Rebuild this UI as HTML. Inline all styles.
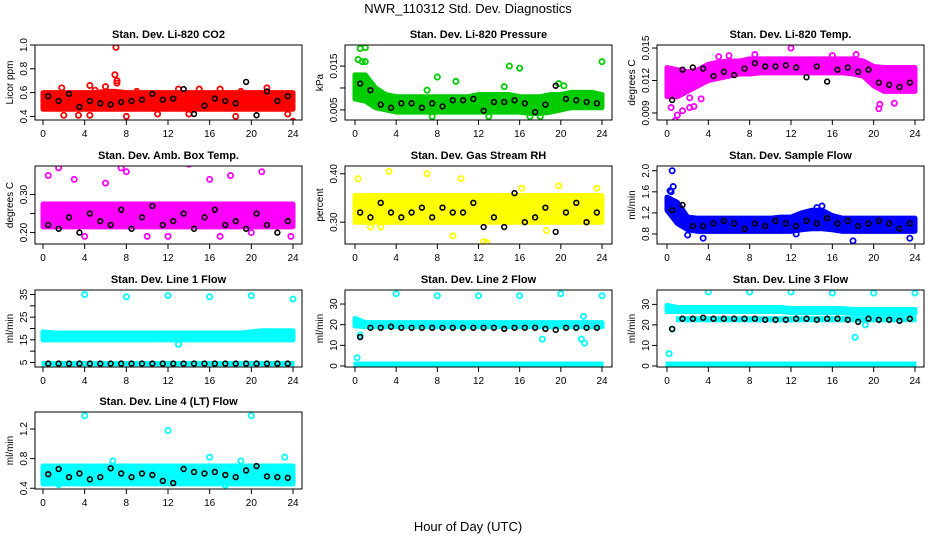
<!DOCTYPE html>
<html><head><meta charset="utf-8"><style>
body{margin:0;background:#fff;}
svg{display:block;font-family:"Liberation Sans",Arial,sans-serif;}
</style></head><body>
<svg id="chart" width="936" height="540" xmlns="http://www.w3.org/2000/svg">
<rect width="936" height="540" fill="#fff"/>
<text x="468" y="13" text-anchor="middle" font-size="13">NWR_110312  Std. Dev. Diagnostics</text>
<text x="468" y="531" text-anchor="middle" font-size="13">Hour of Day (UTC)</text>
</svg>
<script>
const xTicks=[0,4,8,12,16,20,24];
const hours=[0,1,2,3,4,5,6,7,8,9,10,11,12,13,14,15,16,17,18,19,20,21,22,23,24];
const blkHours=[0.5,1.5,2.5,3.5,4.5,5.5,6.5,7.5,8.5,9.5,10.5,11.5,12.5,13.5,14.5,15.5,16.5,17.5,18.5,19.5,20.5,21.5,22.5,23.5];

const titles=["Stan. Dev. Li-820 CO2","Stan. Dev. Li-820 Pressure","Stan. Dev. Li-820 Temp.","Stan. Dev. Amb. Box Temp.","Stan. Dev. Gas Stream RH","Stan. Dev. Sample Flow","Stan. Dev. Line 1 Flow","Stan. Dev. Line 2 Flow","Stan. Dev. Line 3 Flow","Stan. Dev. Line 4 (LT) Flow"];
const yLabels=["Licor ppm","kPa","degrees C","degrees C","percent","ml/min","ml/min","ml/min","ml/min","ml/min"];
const colors=["#ff0000","#00cc00","#ff00ff","#ff00ff","#ffff00","#0000ff","#00ffff","#00ffff","#00ffff","#00ffff"];
const yDomains=[[0.37,1.0],[0.0027,0.0198],[0.00835,0.01528],[0.17,0.375],[0.255,0.416],[0.61,2.09],[3,37],[-0.5,36.8],[-0.5,37],[0.39,1.43]];
const yTicks=[[0.4,0.6,0.8,1.0],[0.005,0.010,0.015],[0.009,0.012,0.015],[0.20,0.25,0.30],[0.30,0.40],[0.8,1.2,1.6,2.0],[5,10,15,20,25,30,35],[0,10,20,30],[0,10,20,30],[0.4,0.8,1.2]];
const yTickLabels=[["0.4","0.6","0.8","1.0"],["0.005","","0.015"],["0.009","0.012","0.015"],["0.20","","0.30"],["0.30","0.40"],["0.8","1.2","1.6","2.0"],["5","","15","","25","","35"],["0","10","20","30"],["0","10","20","30"],["0.4","0.8","1.2"]];

const bandLo=[
[.46,.46,.46,.46,.46,.46,.46,.46,.46,.46,.46,.46,.46,.46,.46,.46,.46,.46,.46,.46,.46,.46,.46,.46,.46],
[.0075,.007,.0055,.005,.0045,.0045,.0045,.0045,.0045,.0045,.0045,.0045,.0045,.0045,.0045,.0045,.0045,.0042,.0042,.0045,.005,.0055,.0055,.0055,.0055],
[.0105,.0105,.011,.0115,.012,.0122,.0124,.0126,.0126,.0127,.0127,.0127,.0127,.0127,.0127,.0127,.0127,.0127,.0126,.0124,.0115,.011,.011,.011,.011],
[.215,.215,.215,.215,.215,.215,.215,.215,.215,.215,.215,.215,.215,.215,.215,.215,.215,.215,.215,.215,.215,.215,.215,.215,.215],
[.30,.30,.30,.30,.30,.30,.30,.30,.30,.30,.30,.30,.30,.30,.30,.30,.30,.30,.30,.30,.30,.30,.30,.30,.30],
[1.25,1.0,.88,.85,.85,.85,.85,.85,.85,.85,.85,.85,.85,.88,.9,.9,.88,.85,.85,.85,.85,.85,.85,.85,.85],
[15,15,15,15,15,15,15,15,15,15,15,15,15,15,15,15,15,15,15,15,15,15,15,15,15],
[19.5,19,19,19,19,19,19,19,19,19,19,19,19,19,19,19,19,19,19,19,19,19,19,19,19],
[26.5,26.5,26.5,26.5,26.5,26.5,26.5,26.5,26.5,26.5,26.5,26.5,26,26,26,26,26,26,25.5,25.5,25.5,25.5,25.5,25.5,25.5],
[.46,.46,.46,.46,.46,.46,.46,.46,.46,.46,.46,.46,.46,.46,.46,.46,.46,.46,.46,.46,.46,.46,.46,.46,.46]];
const bandHi=[
[.60,.60,.60,.60,.60,.60,.61,.61,.60,.60,.60,.60,.60,.60,.60,.60,.60,.60,.60,.60,.60,.60,.60,.60,.60],
[.013,.013,.010,.0085,.008,.008,.008,.008,.008,.008,.008,.008,.0085,.0085,.0085,.0085,.008,.008,.008,.0085,.0085,.009,.009,.009,.0085],
[.0132,.013,.0128,.013,.0135,.0137,.0138,.0138,.014,.014,.014,.014,.014,.014,.014,.014,.014,.014,.014,.0138,.0133,.0132,.0132,.0132,.0132],
[.275,.275,.275,.275,.275,.275,.275,.275,.275,.275,.275,.275,.275,.275,.275,.275,.275,.275,.275,.275,.275,.275,.275,.275,.275],
[.355,.355,.355,.355,.355,.355,.355,.355,.355,.355,.355,.355,.355,.355,.355,.355,.355,.355,.355,.355,.355,.355,.355,.355,.355],
[1.5,1.4,1.12,1.1,1.1,1.1,1.1,1.1,1.1,1.1,1.1,1.12,1.12,1.2,1.25,1.25,1.15,1.1,1.1,1.1,1.1,1.1,1.1,1.1,1.1],
[18.5,18,18,18,18,18,18,18,18,18,18,18,18,18,18,18,18,18,18,18,18.5,19,19,19,19],
[23,21,21,21,21,21,21,21,21,21,21,21,21,21,21,21,21,21,21,21,21,21,21,21,21],
[29.5,28.5,28.5,28.5,28.5,28.5,28.5,28.5,28.5,28.5,28.5,28.5,28,28,28,28,28,28,27.5,27.5,27.5,27.5,27.5,27.5,27.5],
[.70,.70,.70,.70,.70,.70,.70,.70,.70,.70,.70,.70,.70,.70,.70,.70,.70,.70,.70,.70,.70,.70,.70,.70,.70]];
// secondary flat bands for flow panels: [panel, lo, hi, fromHour, toHour]
const band2=[[6,4.0,5.0,0,24],[7,0.4,1.4,0,24],[8,0.4,1.4,0,24],[8,22,23.5,1,24]];

const outliers=[
[[7,.98],[6.9,.75],[7.1,.70],[7.1,.68],[6,.65],[4.5,.66],[1.8,.64],[24,.36],[5,.62],[2,.41],[8,.40],[14,.42],[18.5,.40],[3.4,.41],[4.5,.41],[11,.42],[21.5,.64],[9,.61],[15,.63],[19,.61],[23.5,.42],[13,.63],[17,.63]],
[[0.5,.019],[1,.0192],[0.3,.0165],[0.7,.016],[1,.016],[16,.0145],[15,.015],[24,.016],[9.8,.0115],[8,.0125],[19.8,.011],[20.3,.0105],[14.5,.0103],[7,.0095],[13,.0035],[18,.0035],[17,.0035],[7.5,.0035]],
[[0.8,.0083],[1,.0088],[1.5,.0092],[0.4,.0095],[2.2,.0095],[2.6,.0096],[20.5,.0094],[20.6,.0098],[22,.0099],[12,.015],[16,.0143],[6,.0143],[8.5,.0144],[5,.0142],[18.3,.0144],[3.3,.0103],[2.2,.0104]],
[[0.5,.35],[1.5,.37],[3,.34],[7.5,.37],[8,.36],[14,.38],[18,.35],[21,.36],[10,.19],[4,.19],[12,.19],[17,.19],[23.8,.19],[20,.20],[6,.33],[16,.34]],
[[0.3,.39],[3.3,.405],[7,.40],[10.3,.39],[12.5,.26],[12.8,.258],[9.5,.272],[1.5,.29],[18.6,.283],[23.5,.37],[19.8,.375],[2.5,.29],[16.2,.37]],
[[0.5,2.0],[0.6,1.7],[0.4,1.6],[0.3,1.62],[18,.67],[3.5,.72],[23.5,.72],[2,.78],[12.5,.8],[15,1.33],[14.5,1.3]],
[[4,35],[8,34],[12,34.5],[16,34],[20,34.5],[24,33],[13,13]],
[[0.2,4],[0.5,15],[4,35],[8,34],[12,34],[16,34],[20,35],[24,34],[18.2,13],[22,13],[22.3,11],[22.2,24]],
[[0.2,6],[0.5,18],[4,36],[8,36],[12,36],[16,35.5],[20,35.5],[24,35.5],[18.2,14],[19.2,20]],
[[4,1.38],[20,1.38],[12,1.18],[16,.82],[23.2,.82],[19,.77],[6.7,.77],[1.5,.45],[17.5,.44]]];

const blackVals=[
[.57,.53,.59,.48,.53,.51,.50,.52,.53,.54,.59,.54,.55,.63,.42,.49,.55,.53,.51,.69,.41,.61,.53,.57],
[.011,.0095,.0062,.0055,.0065,.0065,.0055,.0065,.0058,.0072,.0072,.0075,.0048,.0068,.0068,.0072,.0065,.0045,.0062,.0105,.0075,.0072,.0068,.0065],
[.0102,.013,.0132,.0131,.0124,.0128,.0125,.0131,.0136,.0133,.0133,.0134,.0132,.0123,.0133,.0119,.0130,.0132,.0128,.0130,.0118,.0116,.0114,.0118],
[.22,.21,.24,.20,.25,.23,.22,.26,.21,.24,.27,.22,.23,.25,.21,.24,.26,.22,.23,.21,.25,.22,.20,.23],
[.32,.31,.34,.32,.31,.32,.33,.31,.33,.32,.32,.34,.29,.31,.29,.36,.30,.31,.33,.28,.32,.34,.30,.32],
[1.25,1.35,.95,.95,1.0,1.05,1.0,.9,1.0,.95,1.05,1.0,.95,1.05,1.0,1.1,1.0,1.05,.95,1.0,1.05,1.0,.9,1.0],
[4.5,4.5,4.5,4.5,4.5,4.5,4.5,4.5,4.5,4.5,4.5,4.5,4.5,4.5,4.5,4.5,4.5,4.5,4.5,4.5,4.5,4.5,4.5,4.5],
[14,18.5,18.5,19,18.5,18.5,18.5,18.5,18.5,18.5,18.5,18.5,18.5,18.5,18,18.5,18.5,18.5,18,17.5,18.5,18.5,18.5,18.5],
[18,23,23,23.5,23,23,23,23,23,22.5,22.5,22.5,23,23,22.5,23,23,22.5,21.5,23,22.5,22.5,22,23],
[.59,.66,.55,.60,.52,.55,.67,.60,.55,.60,.58,.50,.47,.66,.62,.60,.62,.58,.55,.64,.70,.56,.55,.54]];

const colsX=[[35,302,43,293],[345,612,355,602],[657,924,667,915]];
const rowsY=[[45,120],[166,244],[290,367],[412,489]];
const NS="http://www.w3.org/2000/svg";
const svg=document.getElementById('chart');
function mk(tag,attrs,parent){const e=document.createElementNS(NS,tag);for(const k in attrs)e.setAttribute(k,attrs[k]);(parent||svg).appendChild(e);return e;}

for(let p=0;p<10;p++){
  const c=colsX[p%3], r=rowsY[Math.floor(p/3)];
  const [bx0,bx1,t0,t24]=c, [by0,by1]=r;
  const [d0,d1]=yDomains[p];
  const xs=h=>t0+(t24-t0)*h/24;
  const ys=v=>by1-(v-d0)/(d1-d0)*(by1-by0);
  const g=mk('g',{});
  
  
  const clipId='clip'+p;
  const cp=mk('clipPath',{id:clipId},g);mk('rect',{x:bx0,y:by0,width:bx1-bx0,height:by1-by0},cp);
  const t=mk('text',{x:(bx0+bx1)/2,y:by0-7,'text-anchor':'middle','font-size':11,'font-weight':'bold'},g);t.textContent=titles[p];
  
  
  const plot=mk('g',{'clip-path':'url(#'+clipId+')'},g);
  let pts=hours.map((h,i)=>xs(h)+','+ys(bandHi[p][i]));
  pts=pts.concat(hours.slice().reverse().map((h,j)=>xs(h)+','+ys(bandLo[p][24-j])));
  const band=mk('polygon',{points:pts.join(' '),fill:colors[p],stroke:colors[p],'stroke-width':5,'stroke-linejoin':'round'},plot);
  
  
  band2.filter(b=>b[0]===p).forEach(b=>{
    const r2=mk('rect',{x:xs(b[3]),y:ys(b[2]),width:xs(b[4])-xs(b[3]),height:Math.max(2,ys(b[1])-ys(b[2])),fill:colors[p],stroke:colors[p],'stroke-width':3},plot);
    
    
  });
  outliers[p].forEach(o=>{
    const ci=mk('circle',{cx:xs(o[0]),cy:ys(o[1]),r:2.6,fill:'none',stroke:colors[p],'stroke-width':1.8},plot);
    
    
  });
  blackVals[p].forEach((v,i)=>{
    const ci=mk('circle',{cx:xs(blkHours[i]),cy:ys(v),r:2.4,fill:'none',stroke:'#000','stroke-width':1.6},plot);
    
    
  });
  const box=mk('rect',{x:bx0,y:by0,width:bx1-bx0,height:by1-by0,fill:'none',stroke:'#000','stroke-width':1},g);
  
  
  xTicks.forEach(h=>{
    mk('line',{x1:xs(h),x2:xs(h),y1:by1,y2:by1+5,stroke:'#000'},g);
    const tx=mk('text',{x:xs(h),y:by1+17,'text-anchor':'middle','font-size':10},g);tx.textContent=h;
    
    
  });
  yTicks[p].forEach((v,i)=>{
    const yy=ys(v);
    mk('line',{x1:bx0-5,x2:bx0,y1:yy,y2:yy,stroke:'#000'},g);
    if(yTickLabels[p][i]){
      const tx=mk('text',{x:0,y:0,'text-anchor':'middle','font-size':10,transform:`translate(${bx0-8},${yy}) rotate(-90)`},g);tx.textContent=yTickLabels[p][i];
      
      
    }
  });
  const yl=mk('text',{x:0,y:0,'text-anchor':'middle','font-size':10,transform:`translate(${bx0-22},${(by0+by1)/2}) rotate(-90)`},g);yl.textContent=yLabels[p];
  
  
}
</script>
</body></html>
